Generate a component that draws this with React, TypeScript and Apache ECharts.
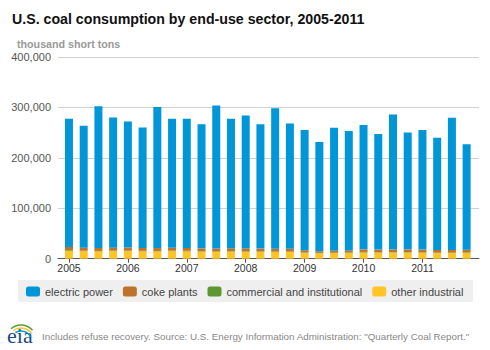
import React, { useEffect, useRef } from "react";
import * as echarts from "echarts";

const years = ["2005", "2006", "2007", "2008", "2009", "2010", "2011"];
const quarters = ["Q1", "Q2", "Q3", "Q4"];

// thousand short tons, quarterly 2005 Q1 .. 2011 Q4
const electricPower = [
  254400, 242000, 281200, 258300,
  250100, 239000, 279500, 255900,
  256200, 245900, 283800, 256900,
  263500, 246400, 278900, 248700,
  238300, 216600, 244200, 236600,
  246500, 229200, 267900, 232000,
  237100, 222700, 262200, 209000,
];
const cokePlants = [
  5900, 5900, 5900, 5700,
  5800, 5800, 5700, 5700,
  5700, 5700, 5700, 5600,
  5600, 5600, 5600, 5300,
  4000, 3300, 3800, 4200,
  5100, 5300, 5400, 5300,
  5300, 5300, 5400, 5400,
];
const commercialInstitutional = [
  1400, 900, 800, 1200,
  1200, 800, 800, 1000,
  1100, 800, 700, 900,
  1100, 800, 700, 900,
  1000, 700, 600, 800,
  1000, 700, 600, 800,
  900, 600, 600, 800,
];
const otherIndustrial = [
  15900, 15000, 14600, 15000,
  15200, 14800, 14600, 15000,
  14600, 14000, 13800, 14200,
  14000, 13600, 13400, 13400,
  11800, 10800, 11200, 11500,
  12400, 12000, 12200, 12400,
  11800, 11400, 11400, 11600,
];
const yTicks = [0, 100000, 200000, 300000, 400000];

const COLORS = {
  electric: "#0096d7",
  coke: "#bd732a",
  commercial: "#5d9732",
  other: "#ffc425",
};

const FONT = "'Liberation Sans', Arial, sans-serif";

export default function App() {
  const ref = useRef<HTMLDivElement>(null);

  useEffect(() => {
    if (!ref.current) return;
    const chart = echarts.init(ref.current, undefined, { renderer: "svg" });
    const categories: string[] = [];
    years.forEach((y) => quarters.forEach((q) => categories.push(y + " " + q)));

    const yMax = yTicks[yTicks.length - 1];
    const yInterval = yTicks[1] - yTicks[0];

    const barSeries = (name: string, data: number[], color: string) => ({
      name,
      type: "bar",
      stack: "total",
      xAxisIndex: 1,
      yAxisIndex: 1,
      barWidth: 8,
      data,
      itemStyle: { color },
      emphasis: { disabled: true },
    });

    chart.setOption({
      animation: false,
      textStyle: { fontFamily: FONT },
      title: {
        text: "U.S. coal consumption by end-use sector, 2005-2011",
        left: 12,
        top: 12,
        padding: 0,
        textStyle: { fontSize: 14.2, fontWeight: "bold", color: "#111", fontFamily: FONT },
      },
      grid: [
        { left: 58, right: 11, top: 57, bottom: 91.3, containLabel: false },
        { left: 61.6, right: 16, top: 57, bottom: 91.3, containLabel: false },
      ],
      xAxis: [
        {
          type: "value",
          gridIndex: 0,
          min: 0,
          max: 1,
          axisLine: { show: true, onZero: false, lineStyle: { color: "#555", width: 1 } },
          axisTick: { show: false },
          axisLabel: { show: false },
          splitLine: { show: false },
        },
        {
          type: "category",
          gridIndex: 1,
          data: categories,
          axisLine: { show: false },
          axisTick: {
            show: true,
            alignWithLabel: true,
            interval: (i: number) => i % 4 === 0,
            length: 4,
            lineStyle: { color: "#555" },
          },
          axisLabel: {
            interval: (i: number) => i % 4 === 0,
            formatter: (v: string) => v.split(" ")[0],
            color: "#333",
            fontSize: 10.5,
            margin: 4,
            fontFamily: FONT,
          },
          splitLine: { show: false },
        },
      ],
      yAxis: [
        {
          type: "value",
          gridIndex: 0,
          min: 0,
          max: yMax,
          interval: yInterval,
          axisLine: { show: false },
          axisTick: { show: false },
          axisLabel: {
            color: "#555",
            fontSize: 11,
            margin: 7,
            fontFamily: FONT,
            formatter: (v: number) => v.toLocaleString("en-US"),
          },
          splitLine: { lineStyle: { color: "#d0d0d0", width: 1 } },
        },
        {
          type: "value",
          gridIndex: 1,
          min: 0,
          max: yMax,
          interval: yInterval,
          show: false,
          splitLine: { show: false },
        },
      ],
      legend: {
        data: ["electric power", "coke plants", "commercial and institutional", "other industrial"],
        left: 26,
        top: 286,
        width: 460,
        padding: 0,
        itemWidth: 14,
        itemHeight: 10,
        itemGap: 10,
        icon: "roundRect",
        selectedMode: false,
        textStyle: { color: "#444", fontSize: 11, fontFamily: FONT },
      },
      series: [
        barSeries("other industrial", otherIndustrial, COLORS.other),
        barSeries("commercial and institutional", commercialInstitutional, COLORS.commercial),
        barSeries("coke plants", cokePlants, COLORS.coke),
        barSeries("electric power", electricPower, COLORS.electric),
      ],
      graphic: [
        {
          type: "text",
          left: 17,
          top: 38,
          style: {
            text: "thousand short tons",
            fill: "#999",
            font: "bold 10.7px " + FONT,
          },
        },
        {
          type: "rect",
          z: -1,
          shape: { x: 18, y: 280, width: 455, height: 22 },
          style: { fill: "#efefef" },
        },
        {
          type: "text",
          left: 7,
          top: 324,
          style: {
            text: "eia",
            fill: "#1a4a80",
            font: "22px 'Liberation Serif', 'DejaVu Serif', serif",
          },
        },
        {
          type: "arc",
          shape: { cx: 21, cy: 340, r: 15, startAngle: -2.3, endAngle: -0.7 },
          style: { stroke: "#5d9732", lineWidth: 1.5, fill: "none" },
        },
        {
          type: "arc",
          shape: { cx: 21, cy: 341, r: 13, startAngle: -2.2, endAngle: -0.6 },
          style: { stroke: "#ffc425", lineWidth: 1.5, fill: "none" },
        },
        {
          type: "arc",
          shape: { cx: 21, cy: 342, r: 11, startAngle: -2.1, endAngle: -0.5 },
          style: { stroke: "#0096d7", lineWidth: 1.5, fill: "none" },
        },
        {
          type: "text",
          left: 42,
          top: 331,
          style: {
            text: 'Includes refuse recovery. Source: U.S. Energy Information Administration: "Quarterly Coal Report."',
            fill: "#888",
            font: "9.8px " + FONT,
          },
        },
      ],
    });

    return () => chart.dispose();
  }, []);

  return (
    <div
      ref={ref}
      style={{ position: "fixed", left: 0, top: 0, width: 490, height: 350, background: "#fff" }}
    />
  );
}
